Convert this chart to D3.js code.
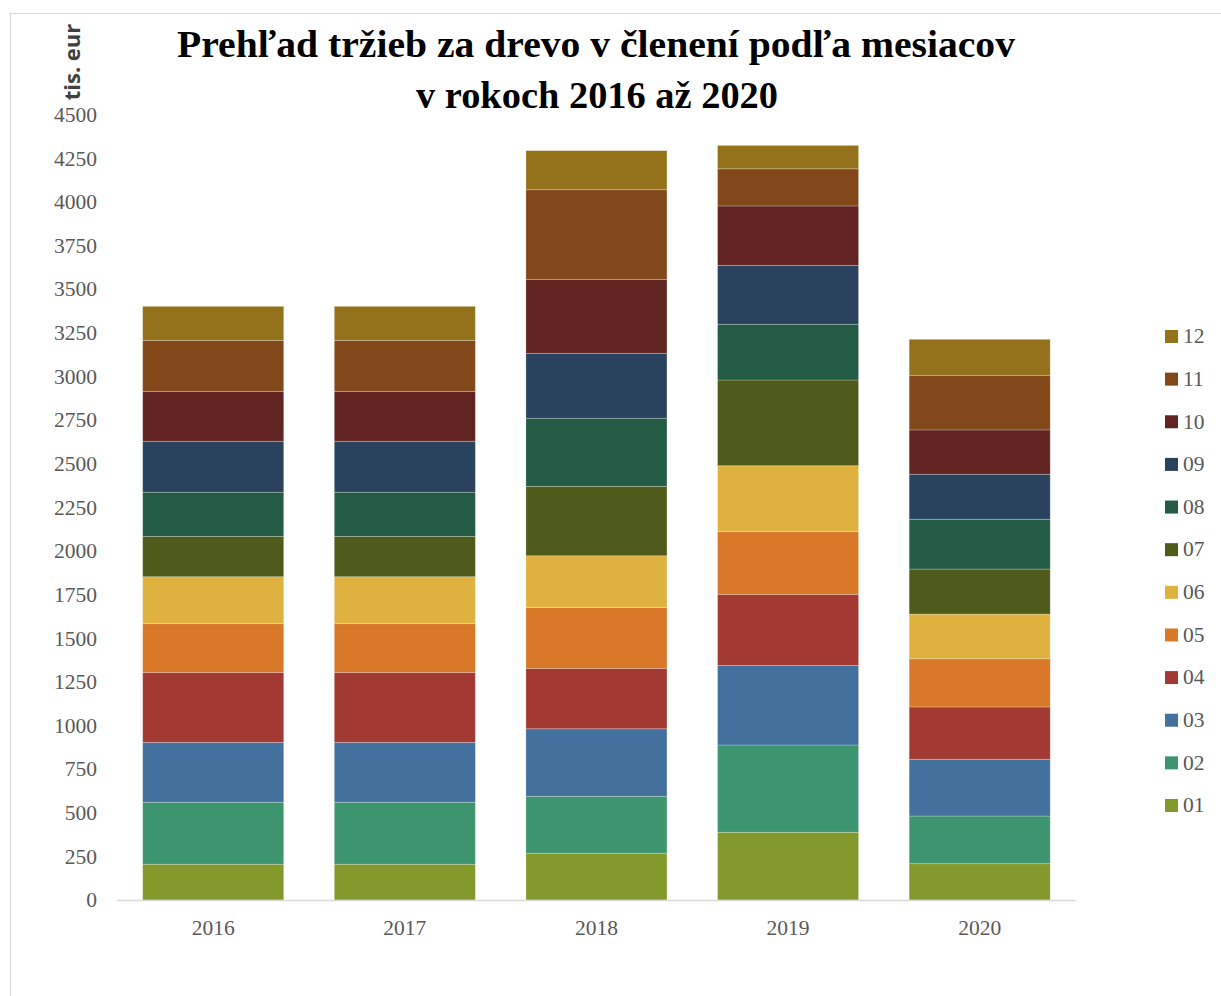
<!DOCTYPE html>
<html>
<head>
<meta charset="utf-8">
<script src="https://cdn.jsdelivr.net/npm/d3@7"></script>
<style>
  html, body { margin: 0; padding: 0; background: #fff; }
  svg { display: block; }
</style>
</head>
<body>
<svg id="chart" width="1221" height="996"></svg>
<script>
// ---- DATA ----
const years = ["2016", "2017", "2018", "2019", "2020"];
const months = ["01", "02", "03", "04", "05", "06", "07", "08", "09", "10", "11", "12"];
const m01 = [205, 205, 268, 388, 208];
const m02 = [355, 355, 326, 500, 273];
const m03 = [343, 343, 387, 456, 325];
const m04 = [401, 401, 346, 407, 300];
const m05 = [279, 279, 348, 359, 276];
const m06 = [269, 269, 297, 378, 256];
const m07 = [231, 231, 398, 491, 258];
const m08 = [253, 253, 390, 319, 285];
const m09 = [292, 292, 372, 338, 258];
const m10 = [286, 286, 422, 340, 254];
const m11 = [292, 292, 515, 213, 313];
const m12 = [195, 195, 224, 134, 206];
const monthColors = ["#84992B", "#3D9570", "#44709D", "#A23A33", "#D97828", "#DFB240",
                     "#4F5B1A", "#235B45", "#29435E", "#622421", "#834819", "#94721B"];
const yTicks = [0, 250, 500, 750, 1000, 1250, 1500, 1750, 2000, 2250, 2500, 2750, 3000, 3250, 3500, 3750, 4000, 4250, 4500];
const titleLines = ["Prehľad tržieb za drevo v členení podľa mesiacov", "v rokoch 2016 až 2020"];
const yUnit = "tis. eur";

const series = [m01, m02, m03, m04, m05, m06, m07, m08, m09, m10, m11, m12];
const table = years.map((y, i) => {
  const row = { year: y };
  months.forEach((m, k) => { row[m] = series[k][i]; });
  return row;
});

// ---- LAYOUT ----
const svg = d3.select("#chart");
const serif = "'Liberation Serif', 'DejaVu Serif', serif";

// chart border
svg.append("rect")
  .attr("x", 10.5).attr("y", 13.5)
  .attr("width", 1240).attr("height", 1000)
  .attr("fill", "#fff").attr("stroke", "#d9d9d9").attr("stroke-width", 1.2);

const x = d3.scaleBand().domain(years).range([117.4, 1075.5])
  .paddingInner(0.264).paddingOuter(0.132);
const y = d3.scaleLinear().domain([0, 4500]).range([900, 114.5]);
const color = d3.scaleOrdinal().domain(months).range(monthColors);

const stack = d3.stack().keys(months);
const stacked = stack(table);

svg.append("g").selectAll("g")
  .data(stacked).join("g")
  .attr("fill", d => color(d.key))
  .selectAll("rect")
  .data(d => d).join("rect")
  .attr("x", d => x(d.data.year))
  .attr("width", x.bandwidth())
  .attr("y", d => y(d[1]))
  .attr("height", d => y(d[0]) - y(d[1]))
  .attr("stroke", "rgba(255,255,255,0.3)")
  .attr("stroke-width", 0.8);

// Y axis
const yAxis = svg.append("g").attr("transform", "translate(117,0)")
  .call(d3.axisLeft(y).tickValues(yTicks).tickSize(0).tickPadding(20).tickFormat(d3.format("d")));
yAxis.select(".domain").remove();
yAxis.selectAll("text").attr("font-family", serif).attr("font-size", 21.5).attr("fill", "#595959");

// X axis
const xAxis = svg.append("g").attr("transform", "translate(0,900.5)")
  .call(d3.axisBottom(x).tickSize(0).tickPadding(19));
xAxis.select(".domain").attr("stroke", "#d9d9d9").attr("stroke-width", 1.5)
  .attr("d", "M117,0H1075.5");
xAxis.selectAll("text").attr("font-family", serif).attr("font-size", 21.5).attr("fill", "#595959");

// Title
const title = svg.append("g");
title.append("text").attr("x", 596).attr("y", 57)
  .attr("text-anchor", "middle").attr("font-family", serif).attr("font-weight", "bold")
  .attr("font-size", 38).attr("fill", "#000")
  .attr("textLength", 838).attr("lengthAdjust", "spacingAndGlyphs")
  .text(titleLines[0]);
title.append("text").attr("x", 597).attr("y", 108)
  .attr("text-anchor", "middle").attr("font-family", serif).attr("font-weight", "bold")
  .attr("font-size", 38).attr("fill", "#000")
  .attr("textLength", 362).attr("lengthAdjust", "spacingAndGlyphs")
  .text(titleLines[1]);

// Unit label
svg.append("text")
  .attr("transform", "translate(80,62) rotate(-90)")
  .attr("text-anchor", "middle")
  .attr("font-family", "'Open Sans', 'DejaVu Sans', sans-serif")
  .attr("font-weight", "bold").attr("font-size", 22)
  .attr("fill", "#404040").text(yUnit);

// Legend
const ly = d3.scalePoint().domain(months.slice().reverse()).range([330, 799]);
const legend = svg.append("g").selectAll("g")
  .data(months).join("g")
  .attr("transform", d => `translate(1165,${ly(d)})`);
legend.append("rect").attr("width", 13).attr("height", 13).attr("fill", d => color(d));
legend.append("text").attr("x", 18).attr("y", 13.3)
  .attr("font-family", serif).attr("font-size", 21.5).attr("fill", "#595959")
  .text(d => d);
</script>
</body>
</html>
